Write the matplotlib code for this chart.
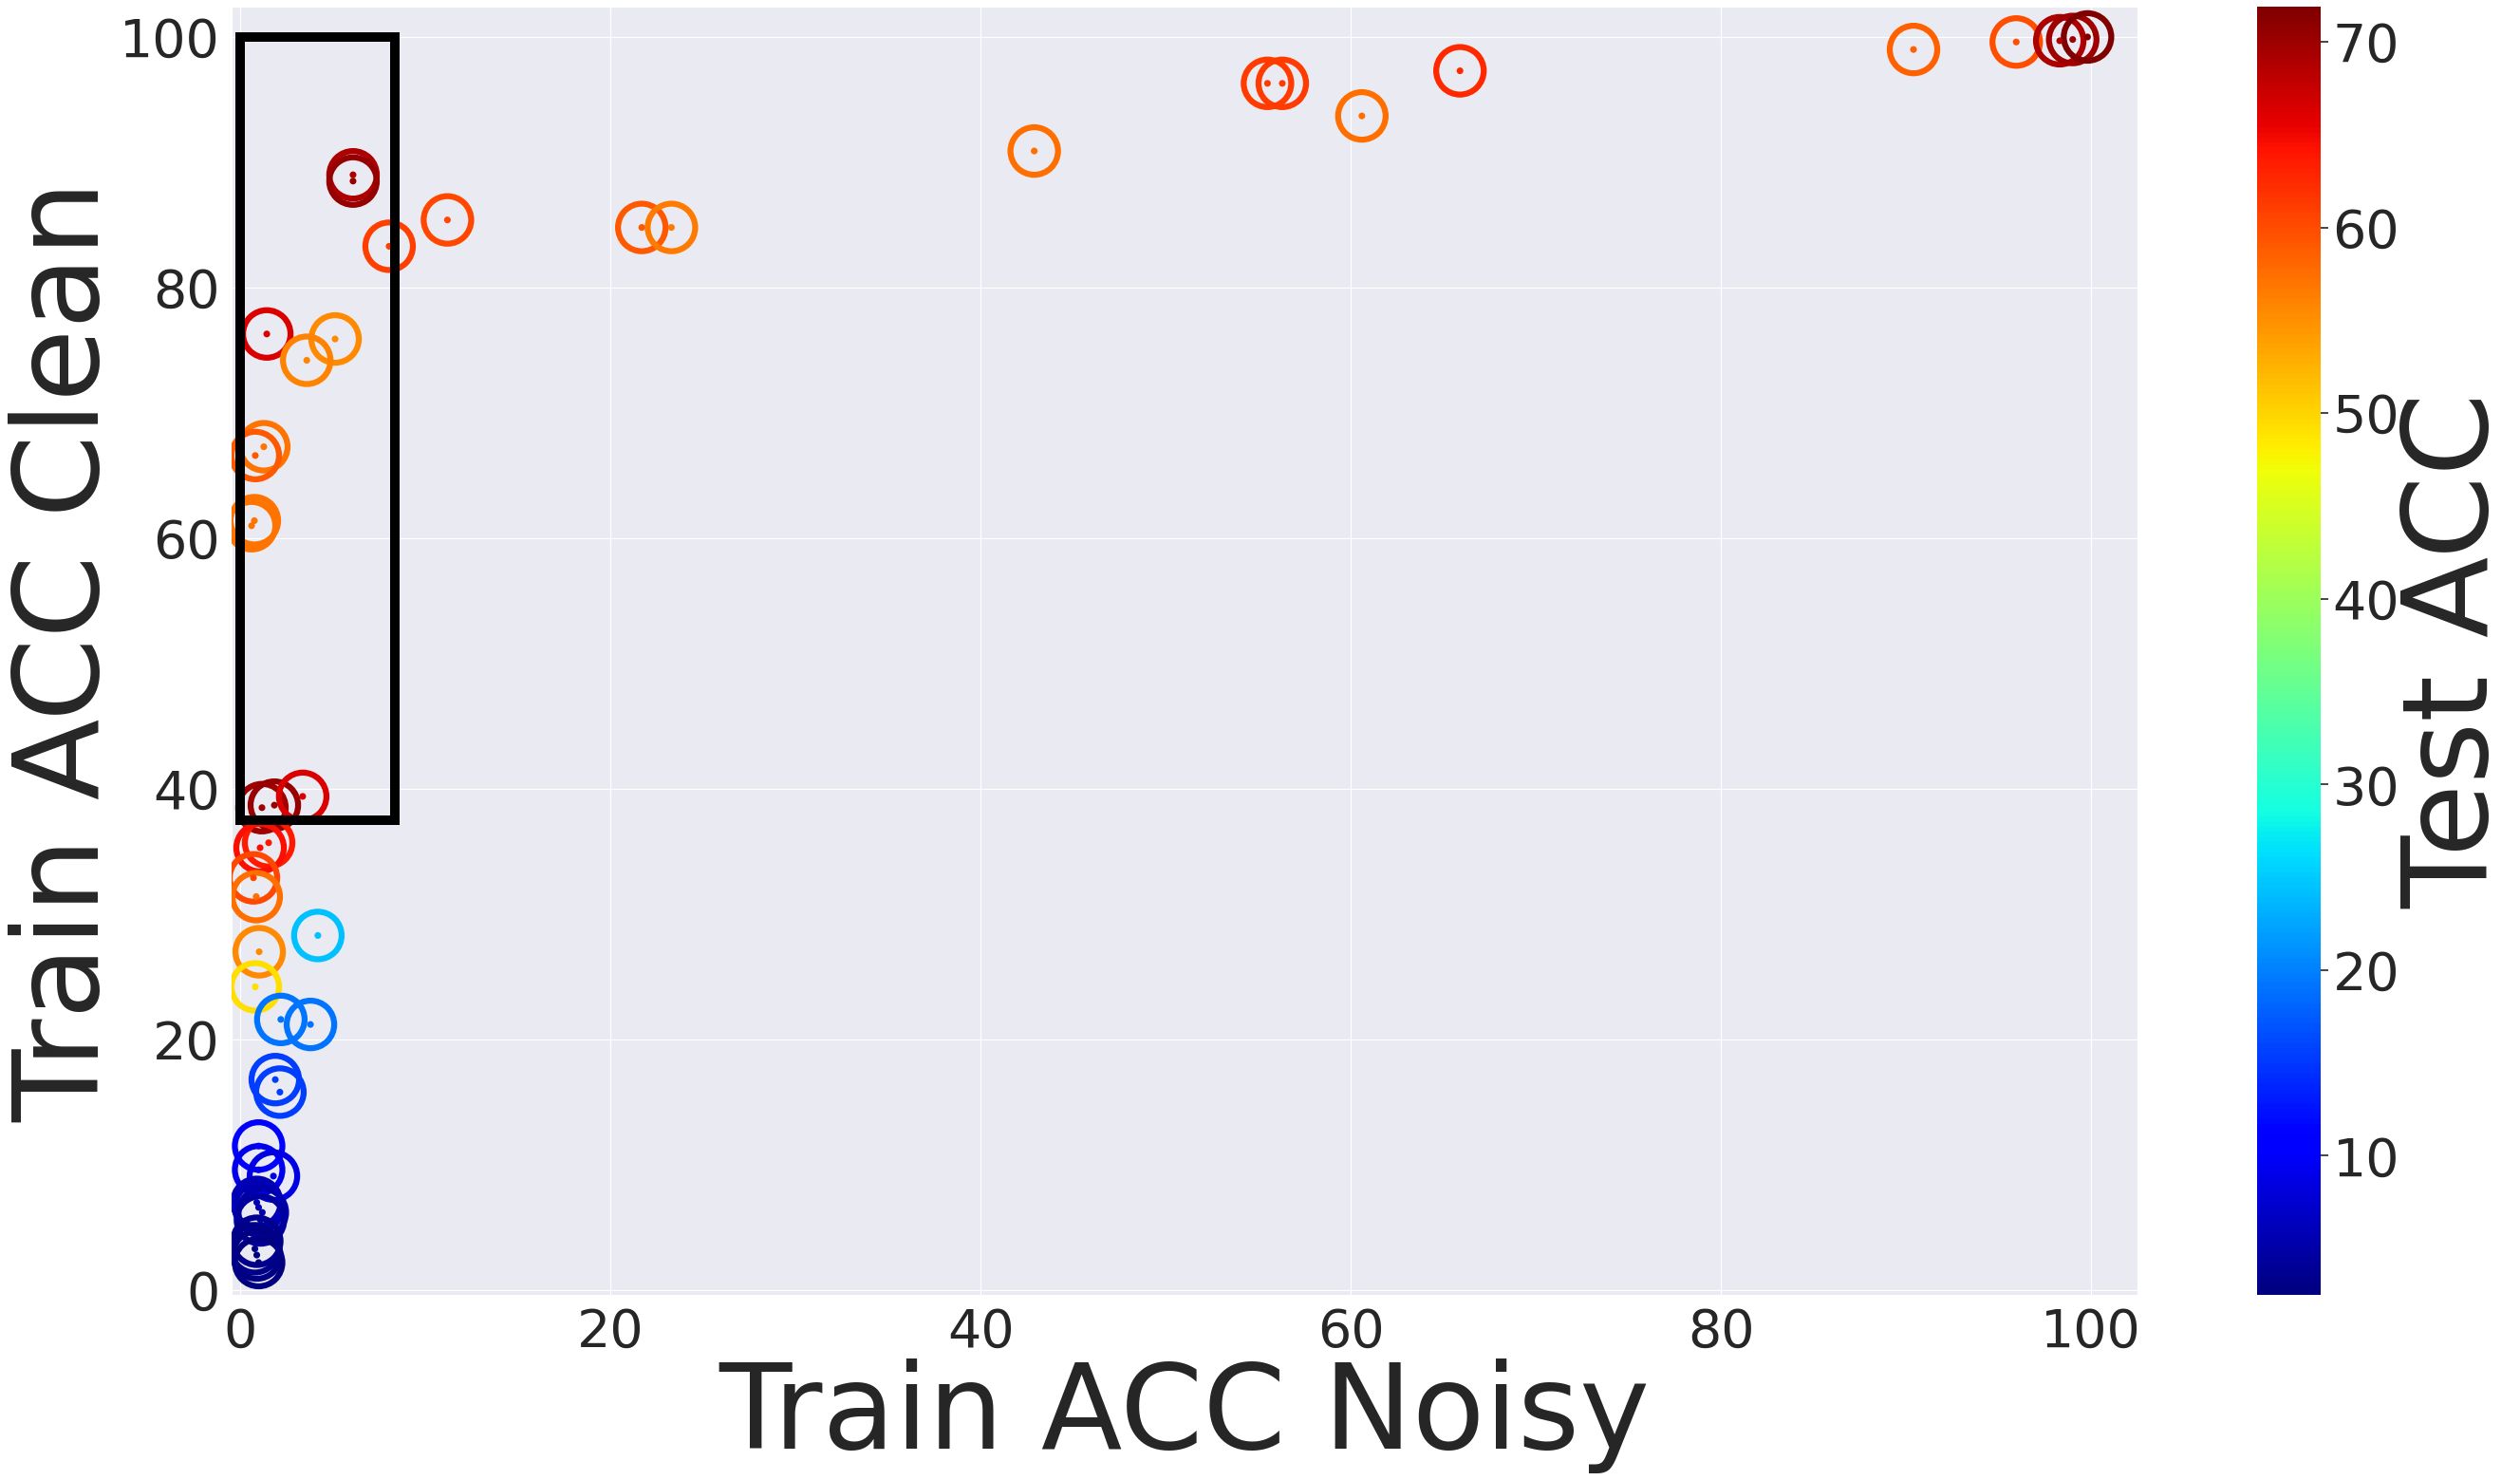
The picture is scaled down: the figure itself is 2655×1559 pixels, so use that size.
import numpy as np
import matplotlib
matplotlib.use("Agg")
import matplotlib.pyplot as plt
import matplotlib.patches as patches
import seaborn as sns

sns.set_style("darkgrid")
plt.rcParams['font.family'] = ['DejaVu Sans']

train_noisy = [90.4, 95.95, 98.3, 99.0, 99.8, 65.9, 60.6, 55.5, 56.3, 42.9,
               21.7, 23.3, 11.2, 8.05, 6.1, 6.1, 1.44, 5.13, 3.6, 1.28,
               0.82, 0.77, 0.62, 1.18, 1.85, 3.38, 1.54, 1.08, 0.72, 0.87,
               1.03, 0.82, 4.2, 2.2, 3.8, 1.9, 2.15, 1.0, 1.0, 1.8,
               1.0, 1.2, 0.9, 1.1, 0.9, 0.9, 1.0, 0.8]
train_clean = [99.0, 99.6, 99.7, 99.8, 100.0, 97.3, 93.7, 96.3, 96.3, 90.9,
               84.8, 84.8, 85.4, 83.3, 89.0, 88.5, 76.3, 75.9, 74.2, 67.3,
               66.6, 61.4, 61.0, 38.5, 38.7, 39.4, 35.7, 35.3, 32.9, 31.4,
               27.0, 24.2, 28.3, 21.6, 21.2, 16.8, 15.8, 11.5, 9.6, 9.1,
               6.6, 6.2, 7.0, 5.6, 3.9, 2.8, 2.2, 3.3]
test_acc = [58.5, 59.8, 69.0, 70.0, 71.9, 62.5, 57.5, 61.1, 61.1, 57.5,
            59.0, 56.5, 60.5, 61.0, 69.0, 70.5, 66.4, 55.5, 56.0, 57.0,
            59.0, 57.0, 57.0, 70.0, 70.5, 66.4, 63.5, 64.5, 60.5, 57.5,
            55.5, 49.3, 24.2, 19.3, 19.3, 15.3, 15.3, 11.4, 9.2, 8.5,
            5.5, 5.0, 6.0, 4.5, 3.5, 3.0, 2.5, 3.2]

box_x = [0.0, 8.35]
box_y = [37.5, 100.0]

W, H = 2655, 1559
fig = plt.figure(figsize=(W / 100, H / 100), dpi=100)
ax = fig.add_axes([244 / W, 1 - 1364 / H, (2252 - 244) / W, (1364 - 7) / H])
cax = fig.add_axes([2378 / W, 1 - 1364 / H, 67 / W, (1364 - 7) / H])

cmap = plt.get_cmap('jet')
norm = matplotlib.colors.Normalize(vmin=min(test_acc), vmax=max(test_acc))
cols = cmap(norm(np.array(test_acc)))

ax.scatter(train_noisy, train_clean, s=1300, facecolors='none',
           edgecolors=cols, linewidths=4.5, zorder=3)
ax.scatter(train_noisy, train_clean, s=26, c=test_acc, cmap=cmap, norm=norm,
           linewidths=0, zorder=4)

rect = patches.Rectangle((box_x[0], box_y[0]), box_x[1] - box_x[0], box_y[1] - box_y[0],
                         fill=False, edgecolor='black', linewidth=7.2, zorder=5)
ax.add_patch(rect)

ax.set_xlim(-0.46, 102.5)
ax.set_ylim(-0.38, 102.42)
ax.set_xticks([0, 20, 40, 60, 80, 100])
ax.set_yticks([0, 20, 40, 60, 80, 100])
ax.tick_params(axis='both', labelsize=40, length=0, pad=9, colors='#262626')
ax.set_xlabel('Train ACC Noisy', fontsize=90, color='#262626', labelpad=0)
ax.set_ylabel('Train ACC Clean', fontsize=90, color='#262626', labelpad=-3)

sm = matplotlib.cm.ScalarMappable(norm=norm, cmap=cmap)
cb = fig.colorbar(sm, cax=cax)
cb.outline.set_visible(False)
cb.set_ticks([10, 20, 30, 40, 50, 60, 70])
cb.ax.tick_params(labelsize=40, length=6, width=1.2, pad=3, colors='#262626')
cb.set_label('Test ACC', fontsize=90, color='#262626', labelpad=-1)

fig.savefig('out.png', dpi=100)
